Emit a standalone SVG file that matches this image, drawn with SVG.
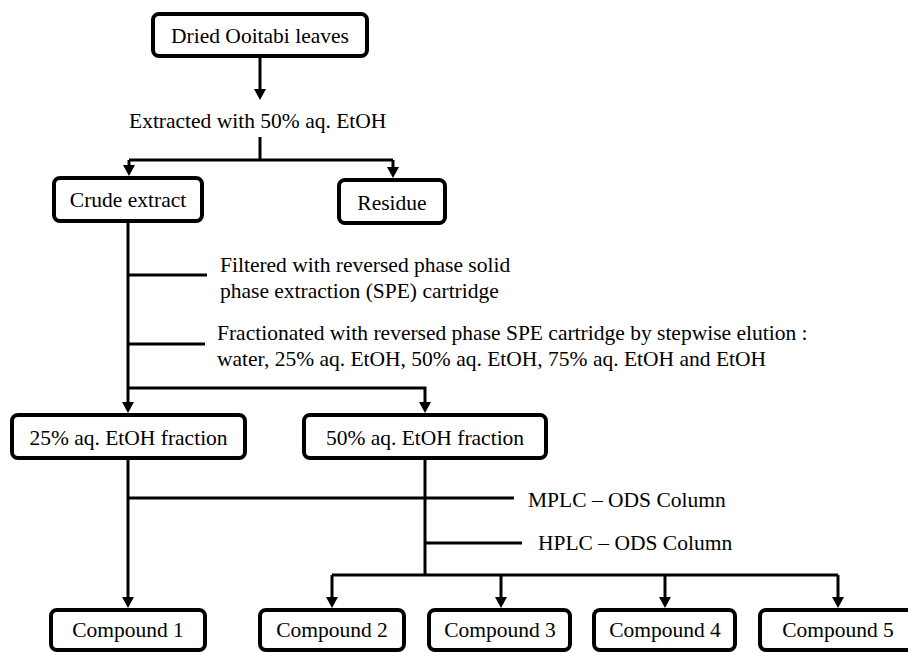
<svg xmlns="http://www.w3.org/2000/svg" width="908" height="653" viewBox="0 0 908 653">
<style>
  .box rect { fill: #fff; stroke: #000; stroke-width: 4; }
  .t { font-family: 'Liberation Serif', 'DejaVu Serif', serif; font-size: 21.5px; fill: #000; }
  .box text { text-anchor: middle; }
  .conn path { fill: none; stroke: #000; stroke-width: 3; }
</style>
<defs>
  <marker id="arr" markerUnits="userSpaceOnUse" markerWidth="12" markerHeight="12" viewBox="0 0 12 12" refX="2" refY="6" orient="auto">
    <path d="M0,0 L11,6 L0,12 z" fill="#000"/>
  </marker>
</defs>
<rect width="908" height="653" fill="#fff"/>

<g id="connectors" class="conn">
  <path d="M260,58 V91" marker-end="url(#arr)"/>
  <path d="M260,137 V160"/>
  <path d="M129,160 H393"/>
  <path d="M129,160 V167" marker-end="url(#arr)"/>
  <path d="M393,160 V169" marker-end="url(#arr)"/>
  <path d="M128,223 V404" marker-end="url(#arr)"/>
  <path d="M128,275 H207"/>
  <path d="M128,344 H205"/>
  <path d="M128,388 H425 V404" marker-end="url(#arr)"/>
  <path d="M128,460 V599" marker-end="url(#arr)"/>
  <path d="M128,498 H514"/>
  <path d="M425,460 V575"/>
  <path d="M425,543 H522"/>
  <path d="M332,575 H838"/>
  <path d="M332,575 V599" marker-end="url(#arr)"/>
  <path d="M501,575 V599" marker-end="url(#arr)"/>
  <path d="M665,575 V599" marker-end="url(#arr)"/>
  <path d="M838,575 V599" marker-end="url(#arr)"/>
</g>

<g id="labels" font-family="Liberation Serif, serif" font-size="21.5">
  <text class="t" x="129" y="128">Extracted with 50% aq. EtOH</text>
  <text class="t" x="220" y="272">Filtered with reversed phase solid</text>
  <text class="t" x="220" y="298">phase extraction (SPE) cartridge</text>
  <text class="t" x="217" y="340">Fractionated with reversed phase SPE cartridge by stepwise elution :</text>
  <text class="t" x="217" y="366">water, 25% aq. EtOH, 50% aq. EtOH, 75% aq. EtOH and EtOH</text>
  <text class="t" x="528" y="507">MPLC – ODS Column</text>
  <text class="t" x="538" y="550">HPLC – ODS Column</text>
</g>

<g id="dried" class="box"><rect x="153" y="14" width="214" height="42" rx="6"/><text class="t" x="260" y="43">Dried Ooitabi leaves</text></g>
<g id="crude" class="box"><rect x="54" y="178" width="148" height="43" rx="6"/><text class="t" x="128" y="207">Crude extract</text></g>
<g id="residue" class="box"><rect x="339" y="180" width="106" height="43" rx="6"/><text class="t" x="392" y="210">Residue</text></g>
<g id="frac25" class="box"><rect x="12" y="415" width="233" height="43" rx="6"/><text class="t" x="128.5" y="445">25% aq. EtOH fraction</text></g>
<g id="frac50" class="box"><rect x="304" y="415" width="242" height="43" rx="6"/><text class="t" x="425" y="445">50% aq. EtOH fraction</text></g>
<g id="c1" class="box"><rect x="51" y="610" width="154" height="40" rx="6"/><text class="t" x="128" y="637">Compound 1</text></g>
<g id="c2" class="box"><rect x="260" y="610" width="144" height="40" rx="6"/><text class="t" x="332" y="637">Compound 2</text></g>
<g id="c3" class="box"><rect x="429" y="610" width="141" height="40" rx="6"/><text class="t" x="500" y="637">Compound 3</text></g>
<g id="c4" class="box"><rect x="594" y="610" width="141" height="40" rx="6"/><text class="t" x="665" y="637">Compound 4</text></g>
<g id="c5" class="box"><rect x="760" y="610" width="156" height="40" rx="6"/><text class="t" x="838" y="637">Compound 5</text></g>
</svg>
